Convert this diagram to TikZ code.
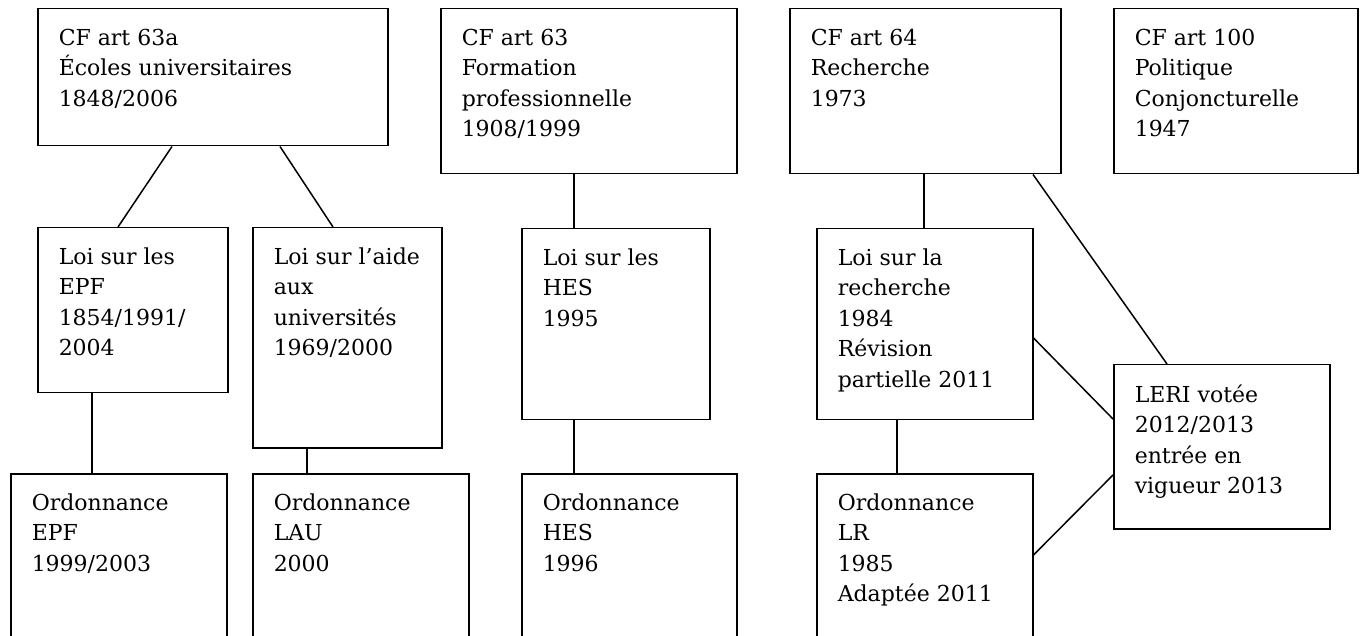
\documentclass[tikz,border=0pt]{standalone}
\usepackage{fontspec}
\setmainfont{DejaVu Serif}
\usepackage{tikz}
\tikzset{
    law-box/.style = {draw=black, line width=1.5pt, rectangle, anchor=north west, inner sep=0pt, font=\fontsize{22}{30.5}\selectfont},
    link/.style = {draw=black, line width=1.5pt},
}
\newcommand{\boxtext}[3]{\begin{minipage}[c][#2][t]{#1}\raggedright\setlength{\leftskip}{21pt}\vspace*{20pt}#3\end{minipage}}

\begin{document}
\begin{tikzpicture}[x=1pt, y=-1pt]
\useasboundingbox (0,0) rectangle (1361,636);
\clip (0,0) rectangle (1361,636);

% constitution
\node [law-box] (cf63a) at (37,8) {\boxtext{350pt}{137pt}{CF art 63a\\Écoles universitaires\\1848/2006}};
\node [law-box] (cf63) at (440,8) {\boxtext{296pt}{165pt}{CF art 63\\Formation\\professionnelle\\1908/1999}};
\node [law-box] (cf64) at (789,8) {\boxtext{271pt}{165pt}{CF art 64\\Recherche\\1973}};
\node [law-box] (cf100) at (1113,8) {\boxtext{244pt}{165pt}{CF art 100\\Politique\\Conjoncturelle\\1947}};

% lois
\node [law-box] (loiEPF) at (37,227) {\boxtext{190pt}{165pt}{Loi sur les\\EPF\\1854/1991/\\2004}};
\node [law-box] (loiLAU) at (252,227) {\boxtext{189pt}{220pt}{Loi sur l’aide\\aux\\universités\\1969/2000}};
\node [law-box] (loiHES) at (521,228) {\boxtext{188pt}{191pt}{Loi sur les\\HES\\1995}};
\node [law-box] (loiLR) at (816,228) {\boxtext{216pt}{191pt}{Loi sur la\\recherche\\1984\\Révision\\partielle 2011}};
\node [law-box] (leri) at (1113,364) {\boxtext{216pt}{164pt}{LERI votée\\2012/2013\\entrée en\\vigueur 2013}};

% ordonnances
\node [law-box] (ordEPF) at (10,473) {\boxtext{216pt}{190pt}{Ordonnance\\EPF\\1999/2003}};
\node [law-box] (ordLAU) at (252,473) {\boxtext{216pt}{190pt}{Ordonnance\\LAU\\2000}};
\node [law-box] (ordHES) at (521,473) {\boxtext{215pt}{190pt}{Ordonnance\\HES\\1996}};
\node [law-box] (ordLR) at (816,473) {\boxtext{216pt}{190pt}{Ordonnance\\LR\\1985\\Adaptée 2011}};

% liens
\draw [link] ([xshift=135pt]cf63a.south west) -- ([xshift=81pt]loiEPF.north west);
\draw [link] ([xshift=243pt]cf63a.south west) -- ([xshift=81pt]loiLAU.north west);
\draw [link] ([xshift=55pt]loiEPF.south west) -- ([xshift=82pt]ordEPF.north west);
\draw [link] ([xshift=55pt]loiLAU.south west) -- ([xshift=55pt]ordLAU.north west);
\draw [link] ([xshift=134pt]cf63.south west) -- ([xshift=53pt]loiHES.north west);
\draw [link] ([xshift=53pt]loiHES.south west) -- ([xshift=53pt]ordHES.north west);
\draw [link] ([xshift=135pt]cf64.south west) -- ([xshift=108pt]loiLR.north west);
\draw [link] ([xshift=81pt]loiLR.south west) -- ([xshift=81pt]ordLR.north west);
\draw [link] ([xshift=244pt]cf64.south west) -- ([xshift=54pt]leri.north west);
\draw [link] ([yshift=-110pt]loiLR.north east) -- ([yshift=-55pt]leri.north west);
\draw [link] ([yshift=-82pt]ordLR.north east) -- ([yshift=-111pt]leri.north west);
\end{tikzpicture}
\end{document}
